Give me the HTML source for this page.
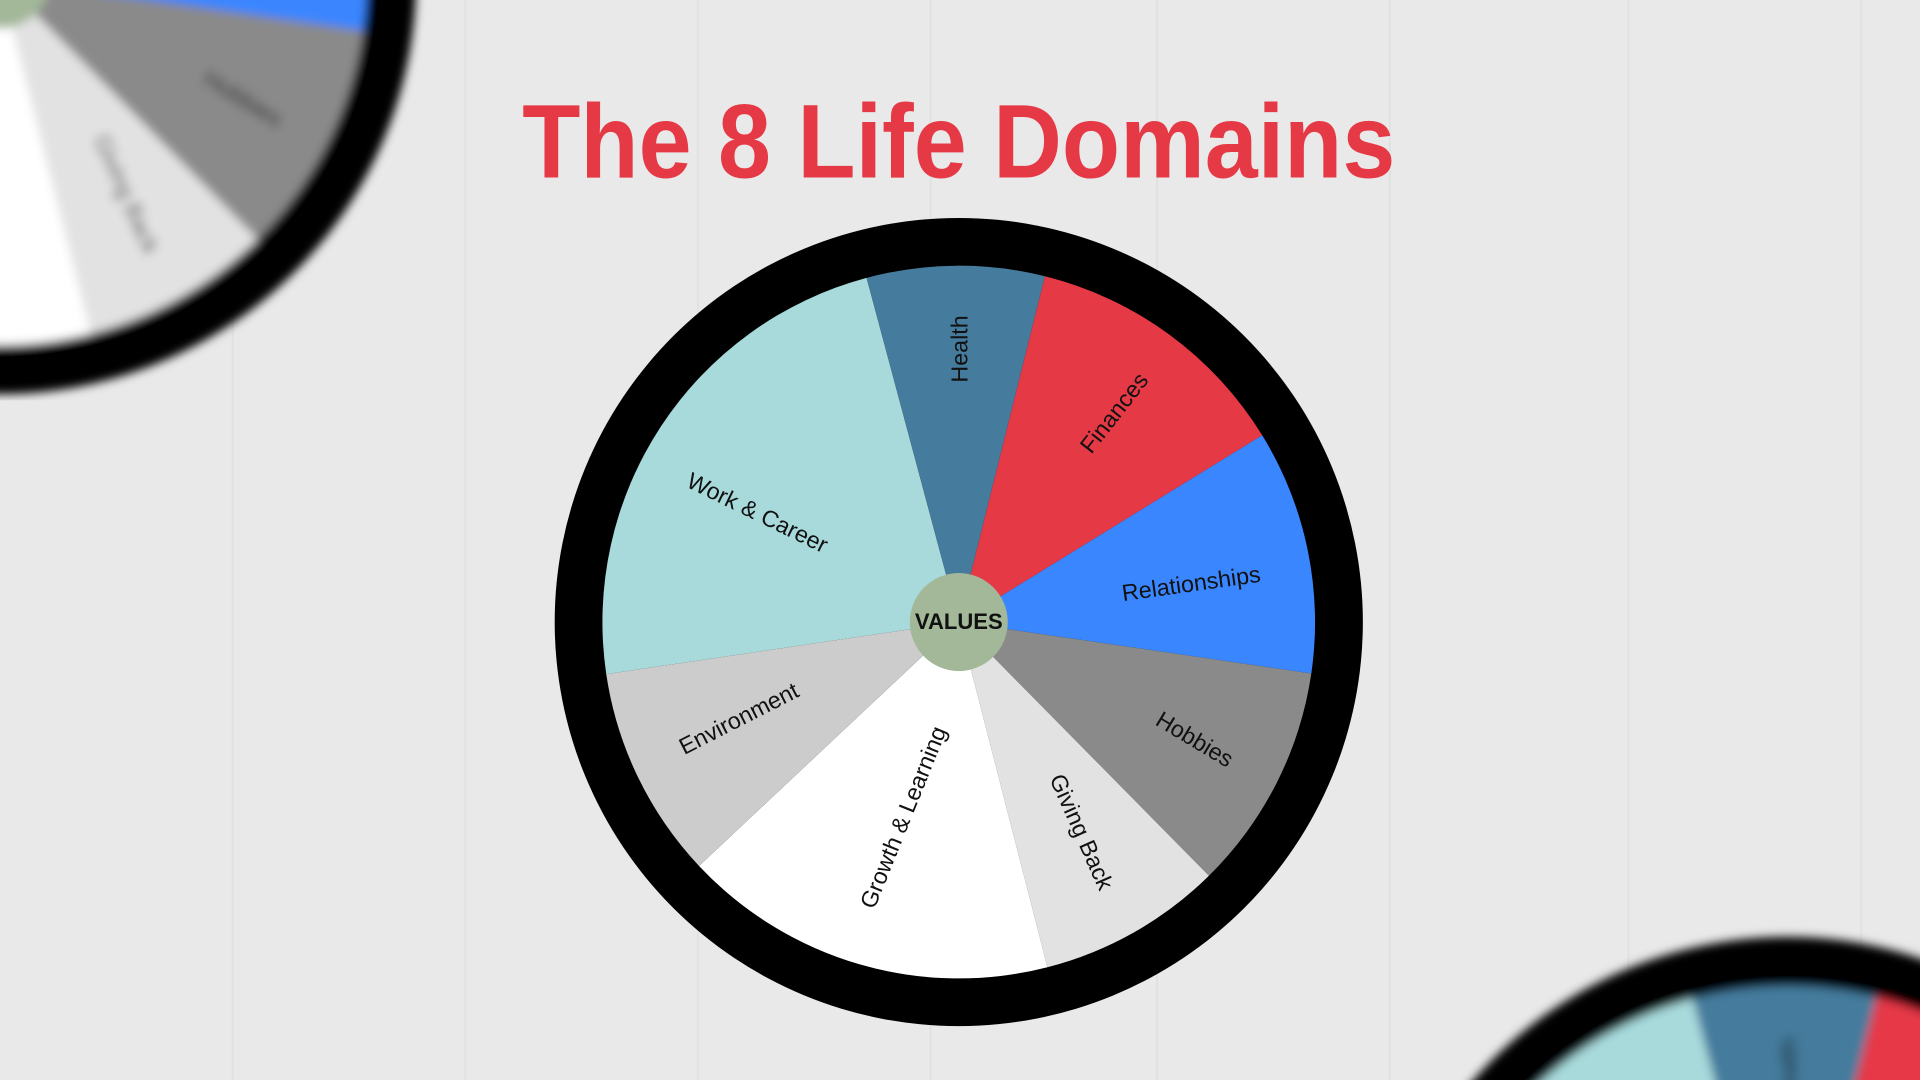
<!DOCTYPE html>
<html><head><meta charset="utf-8"><style>
html,body{margin:0;padding:0;width:1920px;height:1080px;overflow:hidden;background:#e9e9e9}
svg{display:block}
text{font-family:"Liberation Sans",sans-serif}
</style></head><body>
<svg width="1920" height="1080" viewBox="0 0 1568 882" xmlns="http://www.w3.org/2000/svg" style="overflow:hidden">
<defs>
<filter id="bl" x="-20%" y="-20%" width="140%" height="140%"><feGaussianBlur stdDeviation="4"/></filter>
<clipPath id="c1"><rect x="0" y="0" width="400" height="327"/></clipPath>
<clipPath id="c2"><rect x="0" y="0" width="1568" height="882"/></clipPath>
<g id="wheel">
<circle cx="783" cy="508" r="330" fill="#000"/>
<path d="M783,508 L495.1,550.5 A291,291 0 0 1 707.7,226.9 Z" fill="#a8dadc"/>
<path d="M783,508 L707.7,226.9 A291,291 0 0 1 853.4,225.6 Z" fill="#457b9d"/>
<path d="M783,508 L853.4,225.6 A291,291 0 0 1 1030.8,355.5 Z" fill="#e63946"/>
<path d="M783,508 L1030.8,355.5 A291,291 0 0 1 1070.9,550 Z" fill="#3a86ff"/>
<path d="M783,508 L1070.9,550 A291,291 0 0 1 987.3,715.2 Z" fill="#8a8a8a"/>
<path d="M783,508 L987.3,715.2 A291,291 0 0 1 855.4,789.9 Z" fill="#e2e2e2"/>
<path d="M783,508 L855.4,789.9 A291,291 0 0 1 570.9,707.2 Z" fill="#ffffff"/>
<path d="M783,508 L570.9,707.2 A291,291 0 0 1 495.1,550.5 Z" fill="#cccccc"/>
<g font-size="19" fill="#111" text-anchor="middle" dominant-baseline="middle">
<text transform="translate(785,285) rotate(-90)">Health</text>
<text transform="translate(911,338) rotate(-52)">Finances</text>
<text transform="translate(973,478) rotate(-8)">Relationships</text>
<text transform="translate(975,605) rotate(31)">Hobbies</text>
<text transform="translate(882,680) rotate(66)">Giving Back</text>
<text transform="translate(739,668) rotate(-68)">Growth &amp; Learning</text>
<text transform="translate(604,588) rotate(-27)">Environment</text>
<text transform="translate(618,420) rotate(26)">Work &amp; Career</text>
</g>
<circle cx="783" cy="508" r="40" fill="#a3b899"/>
<text x="783" y="509" font-size="18" font-weight="bold" fill="#111" text-anchor="middle" dominant-baseline="middle">VALUES</text>
</g>
</defs>
<rect width="1568" height="882" fill="#e9e9e9"/>
<g stroke="#e1e1e1" stroke-width="1.5">
<line x1="190" y1="0" x2="190" y2="882"/><line x1="380" y1="0" x2="380" y2="882"/>
<line x1="570" y1="0" x2="570" y2="882"/><line x1="760" y1="0" x2="760" y2="882"/>
<line x1="945" y1="0" x2="945" y2="882"/><line x1="1135" y1="0" x2="1135" y2="882"/>
<line x1="1330" y1="0" x2="1330" y2="882"/><line x1="1520" y1="0" x2="1520" y2="882"/>
</g>
<g clip-path="url(#c1)"><g filter="url(#bl)"><use href="#wheel" transform="translate(0,-18) scale(1.03) translate(-783,-508)"/></g></g>
<g clip-path="url(#c2)"><g filter="url(#bl)"><use href="#wheel" transform="translate(1460,1105) scale(1.03) translate(-783,-508)"/></g></g>
<use href="#wheel"/>
<text x="783" y="145" font-size="86" font-weight="bold" fill="#e63946" text-anchor="middle" textLength="713" lengthAdjust="spacingAndGlyphs">The 8 Life Domains</text>
</svg>
</body></html>
